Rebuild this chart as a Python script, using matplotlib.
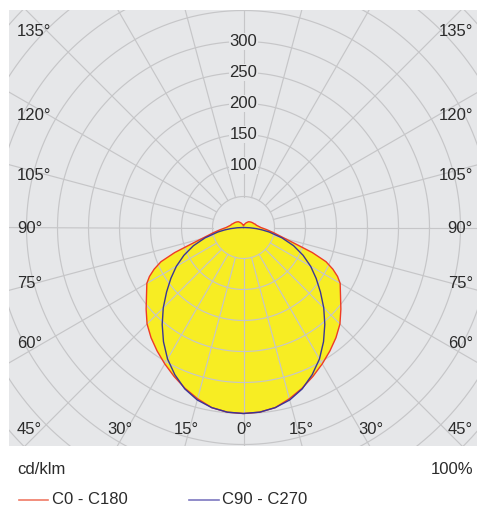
import matplotlib
matplotlib.use("Agg")
import matplotlib.pyplot as plt
import numpy as np

plt.rcParams['font.family'] = ['Liberation Sans', 'DejaVu Sans']

# ---- data (cd/klm) ----
gamma = [0, 5, 10, 15, 20, 25, 30, 35, 40, 45, 50, 55, 60, 62.5, 65, 67.5, 70,
         72.5, 75, 77.5, 80, 85, 90, 95, 100, 105, 110, 115, 120, 125, 130, 135,
         140, 145, 150, 155, 160, 165, 170, 175, 180]
c0_c180 = [300, 299, 295, 286, 276, 265, 254, 243, 232, 220, 205, 191, 180,
           171, 159, 144, 118, 88, 70, 58, 50, 37, 28, 24, 21, 20, 18, 17, 16,
           15, 14, 13, 12, 10, 9, 7, 6, 5, 4, 4, 4]
gamma_c90 = [0, 5, 10, 15, 20, 25, 30, 35, 40, 45, 50, 55, 60, 65, 70, 75, 80,
             82.5, 85, 87.5, 90]
c90_c270 = [300, 299, 295, 288, 277, 262, 245, 225, 204, 183, 162, 143, 125,
            106, 86, 64, 42, 31, 21, 10, 0]
ring_values = [50, 100, 150, 200, 250, 300, 350, 400, 450, 500, 550]
ring_labels = [100, 150, 200, 250, 300]
radial_angles = list(range(0, 360, 15))

left_labels = ["135°", "120°", "105°", "90°", "75°", "60°", "45°"]
left_y = [32, 115.5, 175, 228.3, 283, 343.5, 429.5]
bottom_labels = ["30°", "15°", "0°", "15°", "30°"]
bottom_x = [119.5, 186, 244.5, 301.7, 370.5]
unit_label = "cd/klm"
percent_label = "100%"
series_names = ["C0 - C180", "C90 - C270"]

W, H = 478, 507
fig = plt.figure(figsize=(W / 100, H / 100), dpi=100)
ax_l, ax_r, ax_t, ax_b = 9, 477, 10, 445.7
cx, cy, scale = 243.5, 227.5, 0.62
ax = fig.add_axes([ax_l / W, 1 - ax_b / H, (ax_r - ax_l) / W, (ax_b - ax_t) / H])
ax.set_xlim((ax_l - cx) / scale, (ax_r - cx) / scale)
ax.set_ylim(-(ax_b - cy) / scale, (cy - ax_t) / scale)
ax.set_facecolor('#e6e7e9')
ax.set_xticks([]); ax.set_yticks([])
for s in ax.spines.values():
    s.set_visible(False)

grid_col = '#c6c6c8'
t = np.linspace(0, 2 * np.pi, 721)
for rv in ring_values:
    ax.plot(rv * np.cos(t), rv * np.sin(t), color=grid_col, lw=0.85, zorder=2)
for a in radial_angles:
    ar = np.deg2rad(a)
    ax.plot([50 * np.sin(ar), 700 * np.sin(ar)], [-50 * np.cos(ar), -700 * np.cos(ar)],
            color=grid_col, lw=0.85, zorder=2)

# red curve C0-C180 (filled)
g = np.array(gamma, dtype=float)
r = np.array(c0_c180, dtype=float)
th = np.deg2rad(np.concatenate([-g[::-1], g[1:]]))
rr = np.concatenate([r[::-1], r[1:]])
x1, y1 = rr * np.sin(th), -rr * np.cos(th)
ax.fill(x1, y1, color='#f7ed23', zorder=1, lw=0)
ax.plot(x1, y1, color='#ee3b26', lw=1.0, zorder=3, solid_joinstyle='round')

# blue curve C90-C270
g2 = np.array(gamma_c90, dtype=float)
r2 = np.array(c90_c270, dtype=float)
th2 = np.deg2rad(np.concatenate([-g2[::-1], g2[1:]]))
rr2 = np.concatenate([r2[::-1], r2[1:]])
ax.plot(rr2 * np.sin(th2), -rr2 * np.cos(th2), color='#3a3596', lw=1.0, zorder=3,
        solid_joinstyle='round')

txt_col = '#2b2b2b'
fs = 12
for v in ring_labels:
    ax.text(0, v, str(v), ha='center', va='center', fontsize=fs, color=txt_col, zorder=5,
            bbox=dict(boxstyle='square,pad=0.05', fc='#e6e7e9', ec='none'))

def fx(x):
    return x / W

def fy(y):
    return 1 - y / H

for lab, y in zip(left_labels, left_y):
    fig.text(fx(17), fy(y), lab, ha='left', va='center', fontsize=fs, color=txt_col)
    fig.text(fx(473), fy(y), lab, ha='right', va='center', fontsize=fs, color=txt_col)
for lab, x in zip(bottom_labels, bottom_x):
    fig.text(fx(x), fy(429.5), lab, ha='center', va='center', fontsize=fs, color=txt_col)

fig.text(fx(17), fy(470), unit_label, ha='left', va='center', fontsize=fs, color=txt_col)
fig.text(fx(473), fy(470), percent_label, ha='right', va='center', fontsize=fs, color=txt_col)

# legend
fig.add_artist(plt.Line2D([fx(19), fx(48)], [fy(500), fy(500)], color='#f07a66', lw=1.2))
fig.text(fx(52), fy(500), series_names[0], ha='left', va='center', fontsize=fs, color=txt_col)
fig.add_artist(plt.Line2D([fx(189), fx(219)], [fy(500), fy(500)], color='#7d78c0', lw=1.2))
fig.text(fx(222), fy(500), series_names[1], ha='left', va='center', fontsize=fs, color=txt_col)

fig.savefig('out.png', dpi=100, facecolor='white')
